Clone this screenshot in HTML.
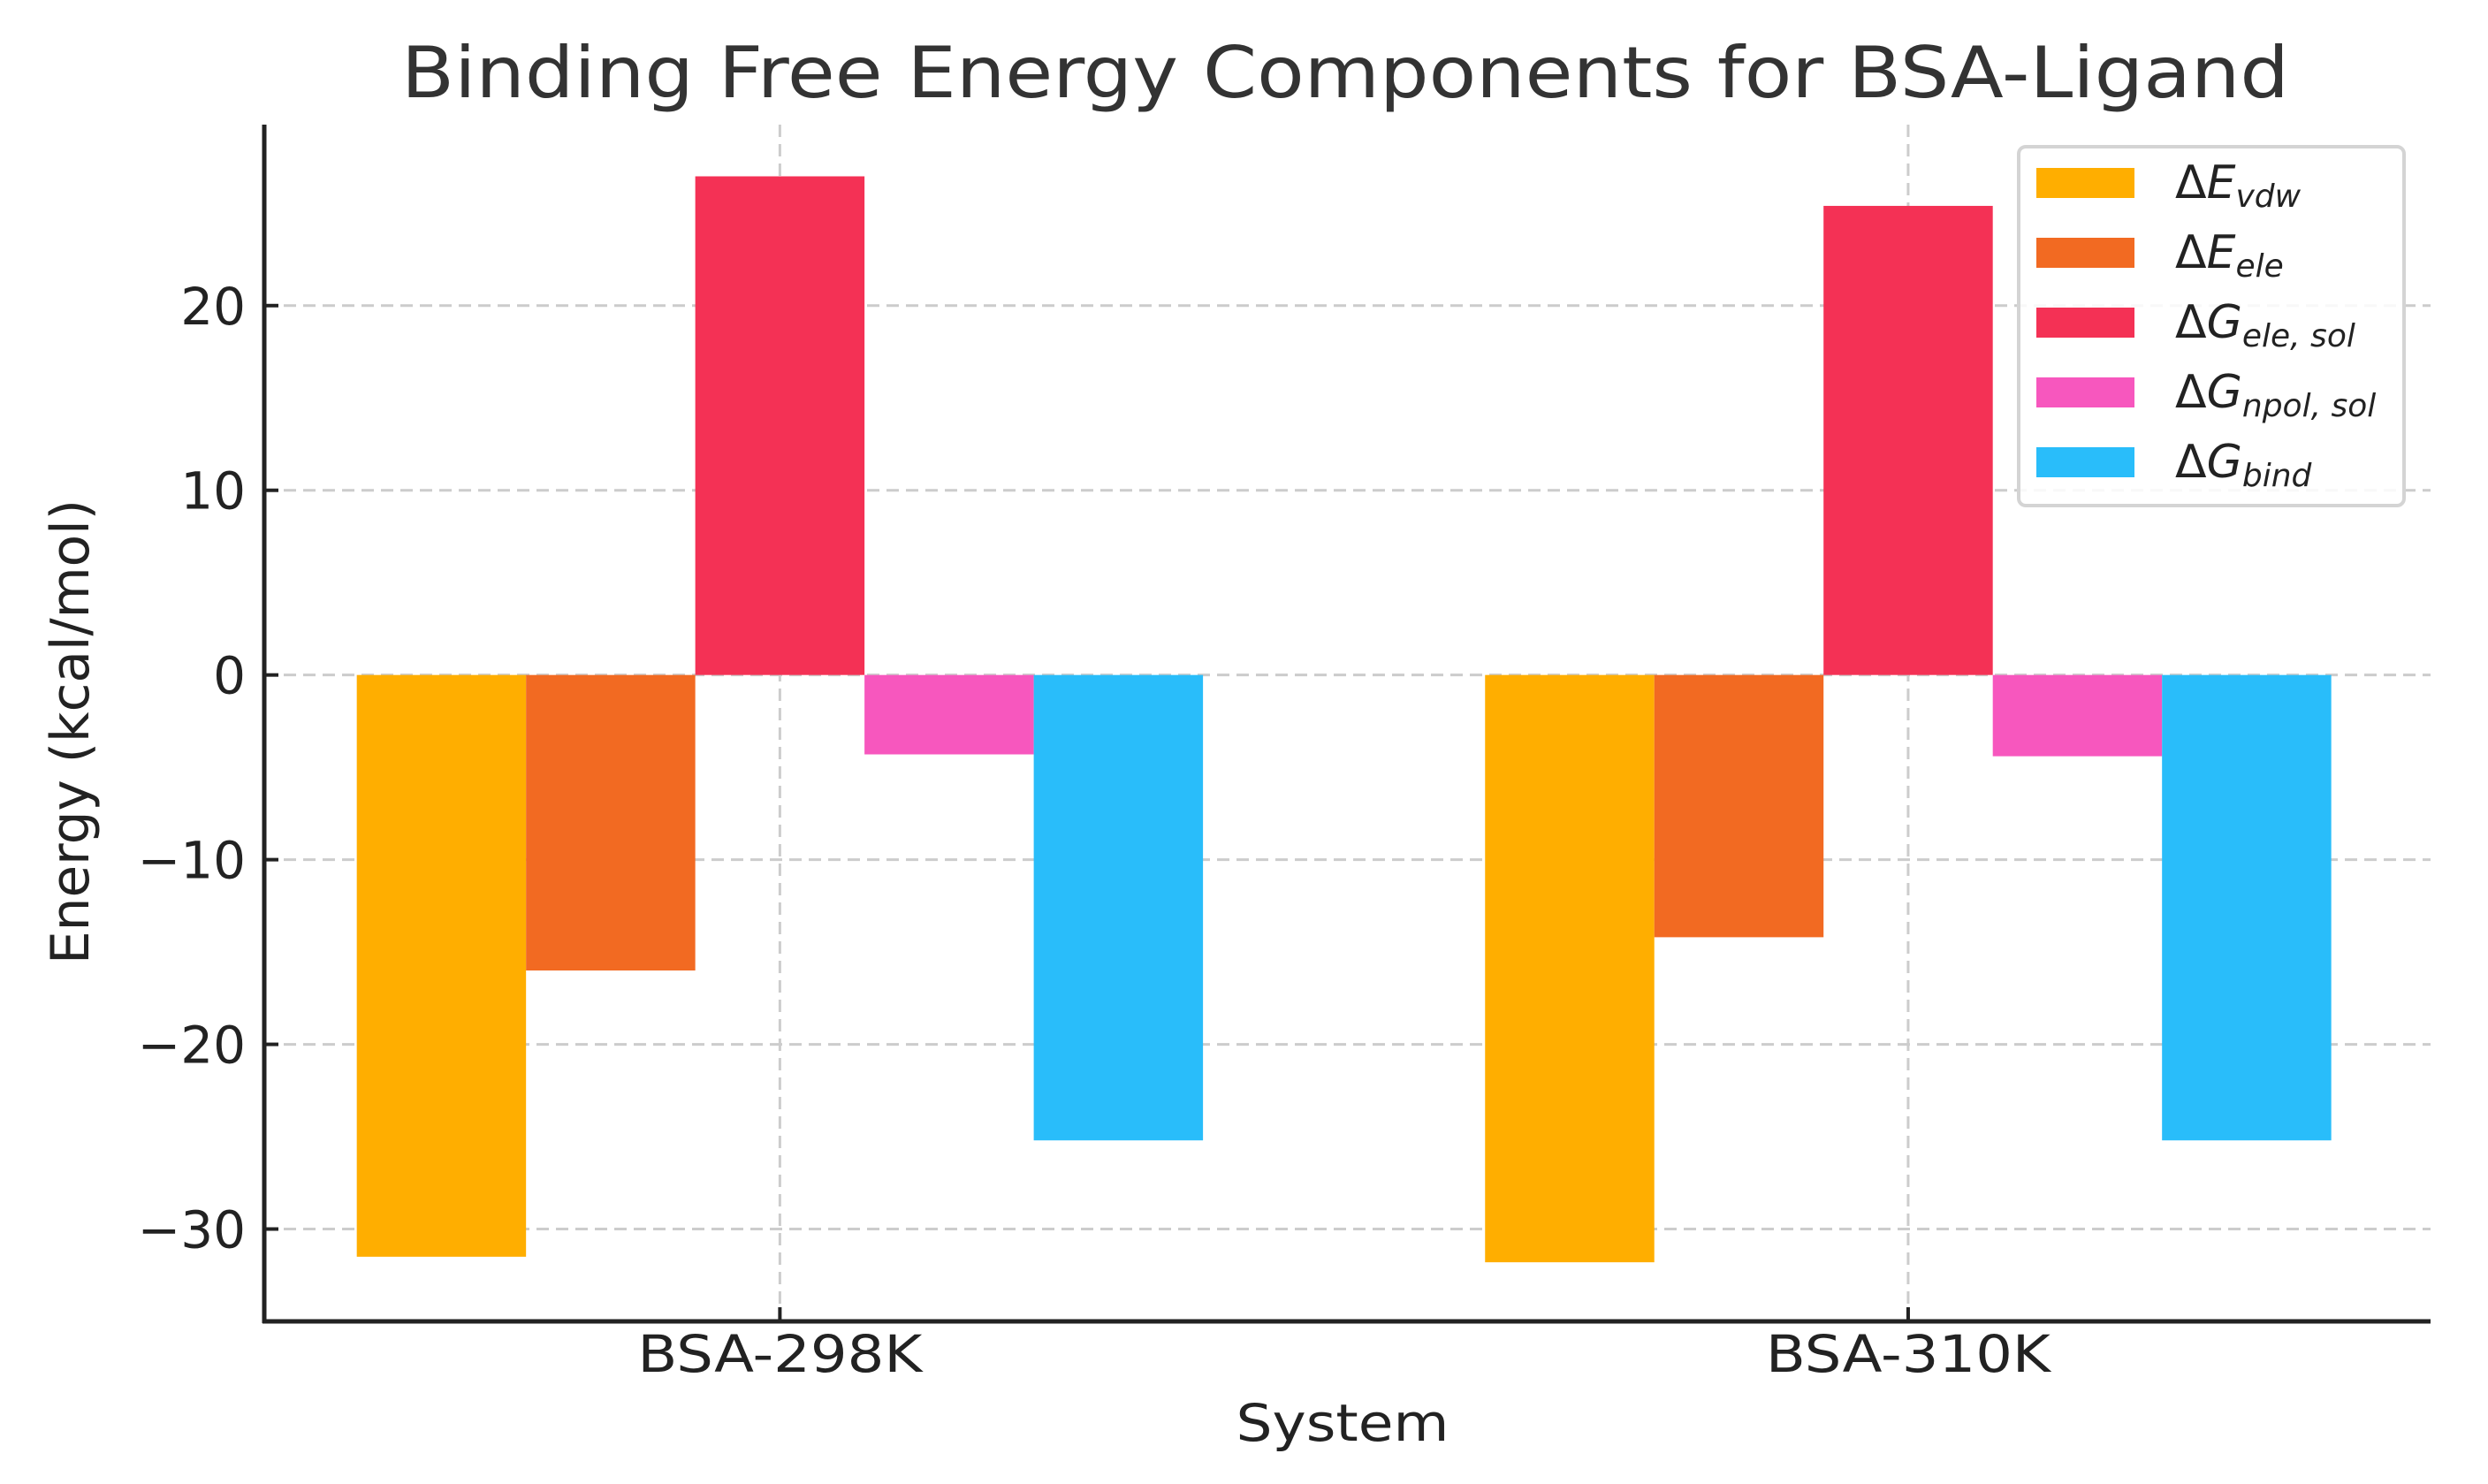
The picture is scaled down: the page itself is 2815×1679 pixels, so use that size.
<!DOCTYPE html>
<html><head><meta charset="utf-8"><style>
html,body{margin:0;padding:0;background:#fff;}
svg{display:block;font-family:"DejaVu Sans","Liberation Sans",sans-serif;}
</style></head><body>
<svg id="chart" width="2815" height="1679" viewBox="0 0 2815 1679" xmlns="http://www.w3.org/2000/svg">
<rect width="2815" height="1679" fill="#fff"/>
<text x="1522" y="110" text-anchor="middle" font-size="80" fill="#333" textLength="2136" lengthAdjust="spacingAndGlyphs">Binding Free Energy Components for BSA-Ligand</text>
<g id="grid"></g>
<g id="bars"></g>
<g id="axes"></g>
<text transform="translate(100,828) rotate(-90)" text-anchor="middle" font-size="60" fill="#222" textLength="526" lengthAdjust="spacingAndGlyphs">Energy (kcal/mol)</text>
<text x="1519" y="1630" text-anchor="middle" font-size="58" fill="#222" textLength="241" lengthAdjust="spacingAndGlyphs">System</text>
<g id="legend"></g>
</svg>
<script>
const categories = ["BSA-298K", "BSA-310K"];
const seriesNames = ["vdw", "ele", "ele,sol", "npol,sol", "bind"];
const seriesPrefix = ["E", "E", "G", "G", "G"];
const vdwValues = [-31.5, -31.8];
const eleValues = [-16.0, -14.2];
const eleSolValues = [27.0, 25.4];
const npolSolValues = [-4.3, -4.4];
const bindValues = [-25.2, -25.2];
const yTicks = [-30, -20, -10, 0, 10, 20];
const yTickLabels = ["\u221230", "\u221220", "\u221210", "0", "10", "20"];

const series = [vdwValues, eleValues, eleSolValues, npolSolValues, bindValues];
const colors = ["#FFAE00", "#F26A22", "#F43155", "#F757BE", "#29BDFA"];
const NS = "http://www.w3.org/2000/svg";
const X0 = 299, X1 = 2750, Y0 = 141, Y1 = 1495;
const xMin = -0.457, xMax = 1.463, yMin = -35.0, yMax = 29.8;
const barW = 0.15;
function xs(v){ return X0 + (v - xMin) / (xMax - xMin) * (X1 - X0); }
function ys(v){ return Y1 - (v - yMin) / (yMax - yMin) * (Y1 - Y0); }
function mk(tag, attrs, parent){ const e = document.createElementNS(NS, tag); for (const k in attrs) e.setAttribute(k, attrs[k]); parent.appendChild(e); return e; }

const grid = document.getElementById('grid');
yTicks.forEach((t, i) => {
  const l = mk('line', {x1: X0, x2: X1, y1: ys(t), y2: ys(t), stroke: '#ccc', 'stroke-width': 3, 'stroke-dasharray': '14 8'}, grid);
  
  
});
categories.forEach((c, i) => {
  const l = mk('line', {x1: xs(i), x2: xs(i), y1: Y0, y2: Y1, stroke: '#ccc', 'stroke-width': 3, 'stroke-dasharray': '14 8'}, grid);
  
  
});

const bars = document.getElementById('bars');
series.forEach((vals, s) => {
  vals.forEach((v, i) => {
    const cx = i + (s - 2) * barW;
    const xa = xs(cx - barW / 2), xb = xs(cx + barW / 2);
    const ya = ys(Math.max(v, 0)), yb = ys(Math.min(v, 0));
    const r = mk('rect', {x: xa, y: ya, width: xb - xa, height: yb - ya, fill: colors[s]}, bars);
    
    
  });
});

const axes = document.getElementById('axes');
const la = mk('line', {x1: X0, x2: X0, y1: Y0, y2: Y1 + 2, stroke: '#222', 'stroke-width': 5}, axes);


const lb = mk('line', {x1: X0 - 2, x2: X1, y1: Y1, y2: Y1, stroke: '#222', 'stroke-width': 5}, axes);


yTicks.forEach((t, i) => {
  const tk = mk('line', {x1: X0, x2: X0 + 16, y1: ys(t), y2: ys(t), stroke: '#222', 'stroke-width': 4}, axes);
  
  
  const tx = mk('text', {x: 278, y: ys(t) + 21, 'text-anchor': 'end', 'font-size': 58, fill: '#222'}, axes);
  tx.textContent = yTickLabels[i];
  
  
});
categories.forEach((c, i) => {
  const tk = mk('line', {x1: xs(i), x2: xs(i), y1: Y1, y2: Y1 - 16, stroke: '#222', 'stroke-width': 4}, axes);
  
  
  const tx = mk('text', {x: xs(i), y: 1552, 'text-anchor': 'middle', 'font-size': 58, fill: '#222', textLength: 322, lengthAdjust: 'spacingAndGlyphs'}, axes);
  tx.textContent = c;
  
  
});

const legend = document.getElementById('legend');
const box = mk('rect', {x: 2284, y: 166, width: 436, height: 406, rx: 8, fill: '#fff', 'fill-opacity': 0.85, stroke: '#d4d4d4', 'stroke-width': 4}, legend);


seriesNames.forEach((n, s) => {
  const cy = 207 + s * 79;
  const sw = mk('rect', {x: 2304, y: cy - 17, width: 111, height: 34, fill: colors[s]}, legend);
  
  
  const tx = mk('text', {x: 2461, y: cy + 17, 'font-size': 52, fill: '#222'}, legend);
  
  
  const t1 = mk('tspan', {}, tx); t1.textContent = '\u0394';
  const t2 = mk('tspan', {'font-style': 'italic'}, tx); t2.textContent = seriesPrefix[s];
  const t3 = mk('tspan', {'font-style': 'italic', 'font-size': 36, dy: 10}, tx); t3.textContent = n.replace(',', ', ');
});
</script>
</body></html>
